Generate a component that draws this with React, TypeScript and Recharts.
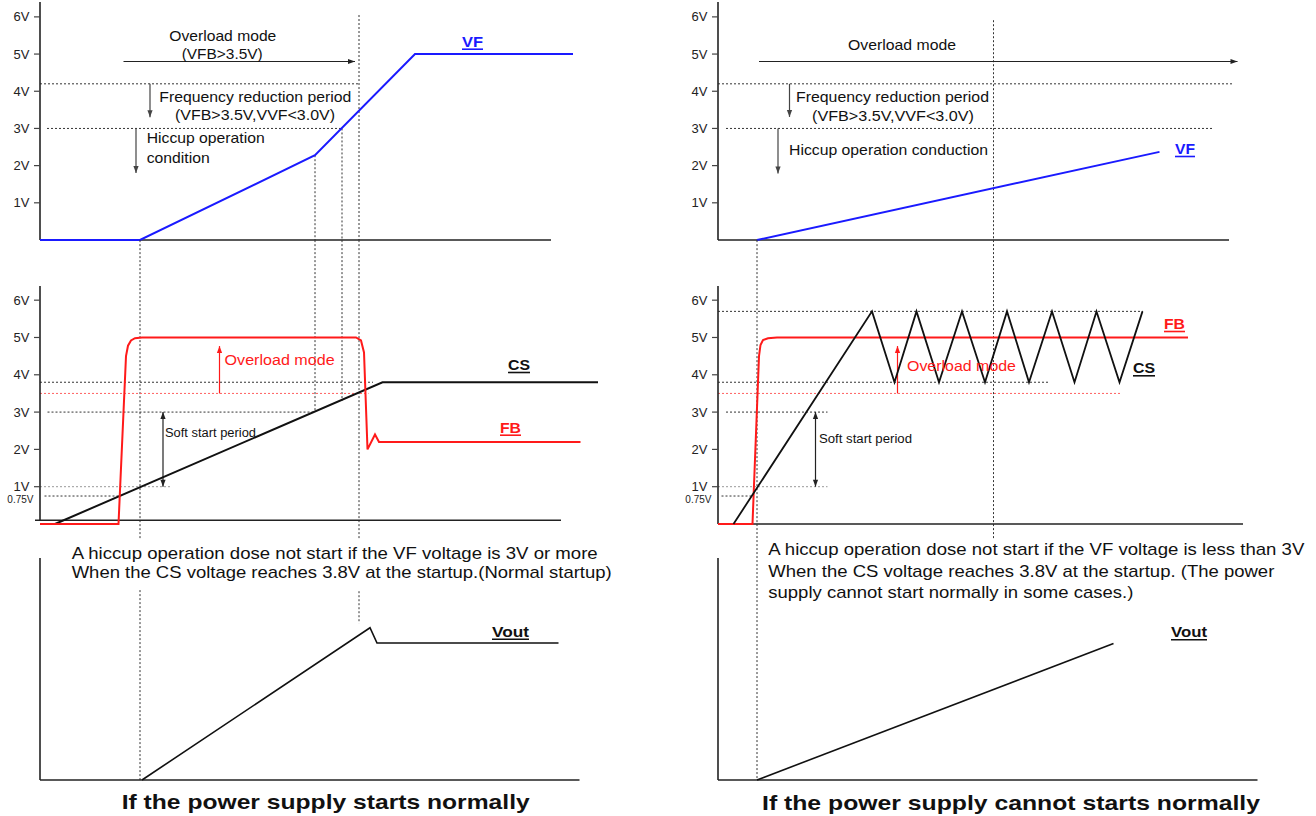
import React from "react";
import { LineChart, Line, XAxis, YAxis, ReferenceLine } from "recharts";

// time is in arbitrary units, 0 = the y axis of each column, 5px per unit
const T_MAX = 112;
const VOLT_TICKS = [1, 2, 3, 4, 5, 6];
const VOLT_TICKS_CS = [0.75, 1, 2, 3, 4, 5, 6];

// ---- left: power supply starts normally ----
const vfNormalT = [0, 20, 55, 75, 106.6];
const vfNormalV = [0, 0, 2.28, 5, 5];
const fbNormalT = [0, 15.7, 17.2, 17.6, 18.2, 19, 20.4, 63.2, 64.2, 64.8, 65.5, 67, 67.8, 108.1];
const fbNormalV = [0, 0, 4.5, 4.78, 4.92, 4.98, 5, 5, 4.92, 4.6, 2.0, 2.4, 2.2, 2.2];
const csNormalT = [3, 68.5, 111.6];
const csNormalV = [0, 3.8, 3.8];
const voutNormalT = [20.4, 66, 67.4, 103.7];
const voutNormalV = [0, 4.08, 3.67, 3.67];

// ---- right: power supply cannot start normally ----
const vfFailT = [7.8, 88.3];
const vfFailV = [0, 2.37];
const fbFailT = [0, 6.9, 8.2, 8.5, 9, 10, 11.8, 94];
const fbFailV = [0, 0, 4.5, 4.8, 4.93, 4.98, 5, 5];
const csFailT = [3.1, 30.8, 35.3, 39.7, 44.2, 48.8, 53.4, 57.8, 62.2, 66.8, 71.3, 75.7, 80.3, 84.9];
const csFailV = [0, 5.7, 3.8, 5.7, 3.8, 5.7, 3.8, 5.7, 3.8, 5.7, 3.8, 5.7, 3.8, 5.7];
const voutFailT = [7.8, 79.1];
const voutFailV = [0, 3.66];

// guide segments: [t1, v1, t2, v2]
type Seg = number[];
const vfNormalGuides: Seg[] = [[0, 4.2, 63.8, 4.2], [1.4, 3, 60.4, 3], [55, 2.28, 55, 0], [60.4, 3, 60.4, 0], [63.8, 6.05, 63.8, 0]];
const vfNormalArrows: Seg[] = [[16.7, 4.8, 63, 4.8]];
const vfNormalDown: Seg[] = [[22, 4.2, 22, 3.3], [19.2, 3, 19.2, 1.8]];
const vfNormalAxes: Seg[] = [[0, 0, 102.2, 0], [0, 0, 0, 6.4]];

const csNormalGuides: Seg[] = [[0, 3.8, 66.6, 3.8], [1.5, 3, 55.1, 3], [0.9, 0.75, 15.7, 0.75], [20, 7.61, 20, -0.43], [55, 7.61, 55, 3], [60.4, 7.61, 60.4, 3.3], [63.8, 7.61, 63.8, -0.43]];
const csNormalGray: Seg[] = [[0, 1, 26.3, 1]];
const csNormalRed: Seg[] = [[0, 3.5, 65.7, 3.5]];
const csNormalRedArrow: Seg[] = [[35.9, 3.5, 35.9, 4.77]];
const csNormalSoft: Seg[] = [[24.6, 3, 24.6, 1]];
const csNormalAxes: Seg[] = [[-1, 0.1, 104.2, 0.1], [0, 0.1, 0, 6.38]];

const voutNormalGuides: Seg[] = [[20, 5.09, 20, 0], [63.8, 5.06, 63.8, 4.2]];
const voutNormalAxes: Seg[] = [[0, 0, 107.9, 0], [0, 0, 0, 5.95]];

const vfFailGuides: Seg[] = [[0, 4.2, 102.8, 4.2], [1.6, 3, 99, 3], [55.1, 5.91, 55.1, 0]];
const vfFailArrows: Seg[] = [[8.2, 4.8, 103.9, 4.8]];
const vfFailDown: Seg[] = [[14.3, 4.2, 14.3, 3.31], [12, 3, 12, 1.79]];
const vfFailAxes: Seg[] = [[0, 0, 102.2, 0], [0, 0, 0, 6.4]];

const csFailGuides: Seg[] = [[0, 5.7, 85, 5.7], [0, 3.8, 66.4, 3.8], [1.6, 3, 21.9, 3], [0.7, 0.75, 6.9, 0.75], [7.8, 7.61, 7.8, 0], [55.1, 7.61, 55.1, -0.43]];
const csFailGray: Seg[] = [[0, 1, 21.9, 1]];
const csFailRed: Seg[] = [[0, 3.5, 80.8, 3.5]];
const csFailRedArrow: Seg[] = [[35.9, 3.5, 35.9, 4.77]];
const csFailSoft: Seg[] = [[19.5, 3, 19.5, 1]];
const csFailAxes: Seg[] = [[0, 0, 105, 0], [0, 0, 0, 6.38]];

const voutFailGuides: Seg[] = [[7.8, 6.86, 7.8, 0]];
const voutFailAxes: Seg[] = [[0, 0, 107.9, 0], [0, 0, 0, 5.95]];

const FONT = "'Liberation Sans', Arial, Helvetica, sans-serif";
const RED = "#ff1a1a";
const BLUE = "#1a1aff";

const pts = (t: number[], v: number[]) => t.map((x, i) => ({ t: x, v: v[i] }));

const VTick = (props: any) => {
  const { x, y, payload } = props;
  if (payload.value === 0.75) {
    return (
      <text x={x + 3.5} y={y + 6.5} textAnchor="end" fontSize={10} fontFamily={FONT} fill="#222">
        0.75V
      </text>
    );
  }
  return (
    <g>
      <line x1={x + 4} x2={x + 10} y1={y} y2={y} stroke="#444" strokeWidth={1.2} />
      <text x={x - 0.5} y={y + 4.6} textAnchor="end" fontSize={13} fontFamily={FONT} fill="#222">
        {`${payload.value}V`}
      </text>
    </g>
  );
};

const arrowShape = (both: boolean) => (p: any) => {
  const { x1, y1, x2, y2, stroke } = p;
  const dx = x2 - x1;
  const dy = y2 - y1;
  const len = Math.hypot(dx, dy) || 1;
  const ux = dx / len;
  const uy = dy / len;
  const head = (hx: number, hy: number, dx: number, dy: number) =>
    `${hx},${hy} ${hx - dx * 7 - dy * 2.6},${hy - dy * 7 + dx * 2.6} ${hx - dx * 7 + dy * 2.6},${hy - dy * 7 - dx * 2.6}`;
  return (
    <g>
      <line x1={x1} y1={y1} x2={x2} y2={y2} stroke={stroke} strokeWidth={1.2} />
      <polygon points={head(x2, y2, ux, uy)} fill={stroke} />
      {both && <polygon points={head(x1, y1, -ux, -uy)} fill={stroke} />}
    </g>
  );
};

const seg = (s: Seg, key: string, stroke: string, opts: any = {}) => (
  <ReferenceLine
    key={key}
    segment={[{ x: s[0], y: s[1] }, { x: s[2], y: s[3] }]}
    stroke={stroke}
    ifOverflow="visible"
    {...opts}
  />
);

type Series = { data: { t: number; v: number }[]; color: string; width: number };

function Panel(props: {
  left: number;
  top: number;
  height: number;
  mt: number;
  mb: number;
  yMax: number;
  ticks: number[];
  series: Series[];
  axes: Seg[];
  dotted?: Seg[];
  gray?: Seg[];
  red?: Seg[];
  arrows?: Seg[];
  down?: Seg[];
  redArrows?: Seg[];
  soft?: Seg[];
}) {
  const p = props;
  return (
    <div style={{ position: "absolute", left: p.left, top: p.top }}>
      <LineChart width={600} height={p.height} margin={{ top: p.mt, right: 0, bottom: p.mb, left: 0 }}>
        <XAxis type="number" dataKey="t" domain={[0, T_MAX]} hide />
        <YAxis
          type="number"
          domain={[0, p.yMax]}
          ticks={p.ticks}
          interval={0}
          width={40}
          axisLine={false}
          tickLine={false}
          tickSize={6}
          tickMargin={4}
          tick={p.ticks.length ? <VTick /> : false}
        />
        {(p.dotted || []).map((s, i) => seg(s, "d" + i, "#333", { strokeDasharray: "2 2", strokeWidth: 1 }))}
        {(p.gray || []).map((s, i) => seg(s, "g" + i, "#999", { strokeDasharray: "2 2", strokeWidth: 1 }))}
        {(p.red || []).map((s, i) => seg(s, "r" + i, "#ff6060", { strokeDasharray: "2 2", strokeWidth: 1 }))}
        {(p.arrows || []).map((s, i) => seg(s, "a" + i, "#222", { shape: arrowShape(false) }))}
        {(p.down || []).map((s, i) => seg(s, "w" + i, "#444", { shape: arrowShape(false) }))}
        {(p.redArrows || []).map((s, i) => seg(s, "ra" + i, RED, { shape: arrowShape(false) }))}
        {(p.soft || []).map((s, i) => seg(s, "s" + i, "#222", { shape: arrowShape(true) }))}
        {p.axes.map((s, i) => seg(s, "x" + i, "#222", { strokeWidth: 1.6 }))}
        {p.series.map((s, i) => (
          <Line
            key={"l" + i}
            data={s.data}
            dataKey="v"
            type="linear"
            stroke={s.color}
            strokeWidth={s.width}
            dot={false}
            activeDot={false}
            isAnimationActive={false}
          />
        ))}
      </LineChart>
    </div>
  );
}

const Txt = (p: { x: number; y: number; w: number; s: number; t: string; bold?: boolean; color?: string; u?: boolean }) => {
  const color = p.color || "#111";
  return (
    <g>
      <text
        x={p.x}
        y={p.y}
        fontSize={p.s}
        fontWeight={p.bold ? 700 : 400}
        fill={color}
        fontFamily={FONT}
        textLength={p.w}
        lengthAdjust="spacingAndGlyphs"
      >
        {p.t}
      </text>
      {p.u && <line x1={p.x} x2={p.x + p.w} y1={p.y + 2.5} y2={p.y + 2.5} stroke={color} strokeWidth={1.6} />}
    </g>
  );
};

export default function App() {
  return (
    <div style={{ position: "absolute", left: 0, top: 0, width: 1316, height: 816, background: "#fff", overflow: "hidden" }}>
      {/* left column */}
      <Panel left={0} top={0} height={246} mt={2} mb={6} yMax={6.4} ticks={VOLT_TICKS}
        series={[{ data: pts(vfNormalT, vfNormalV), color: BLUE, width: 2 }]}
        axes={vfNormalAxes} dotted={vfNormalGuides} arrows={vfNormalArrows} down={vfNormalDown} />
      <Panel left={0} top={240} height={306} mt={46} mb={22} yMax={6.38} ticks={VOLT_TICKS_CS}
        series={[
          { data: pts(csNormalT, csNormalV), color: "#111", width: 2 },
          { data: pts(fbNormalT, fbNormalV), color: RED, width: 2 },
        ]}
        axes={csNormalAxes} dotted={csNormalGuides} gray={csNormalGray} red={csNormalRed}
        redArrows={csNormalRedArrow} soft={csNormalSoft} />
      <Panel left={0} top={524} height={262} mt={34} mb={6} yMax={5.95} ticks={[]}
        series={[{ data: pts(voutNormalT, voutNormalV), color: "#111", width: 1.6 }]}
        axes={voutNormalAxes} dotted={voutNormalGuides} />

      {/* right column */}
      <Panel left={678} top={0} height={246} mt={2} mb={6} yMax={6.4} ticks={VOLT_TICKS}
        series={[{ data: pts(vfFailT, vfFailV), color: BLUE, width: 2 }]}
        axes={vfFailAxes} dotted={vfFailGuides} arrows={vfFailArrows} down={vfFailDown} />
      <Panel left={678} top={240} height={306} mt={46} mb={22} yMax={6.38} ticks={VOLT_TICKS_CS}
        series={[
          { data: pts(fbFailT, fbFailV), color: RED, width: 2 },
          { data: pts(csFailT, csFailV), color: "#111", width: 1.8 },
        ]}
        axes={csFailAxes} dotted={csFailGuides} gray={csFailGray} red={csFailRed}
        redArrows={csFailRedArrow} soft={csFailSoft} />
      <Panel left={678} top={524} height={262} mt={34} mb={6} yMax={5.95} ticks={[]}
        series={[{ data: pts(voutFailT, voutFailV), color: "#111", width: 1.6 }]}
        axes={voutFailAxes} dotted={voutFailGuides} />

      <svg width={1316} height={816} style={{ position: "absolute", left: 0, top: 0, pointerEvents: "none" }}>
        {/* left annotations */}
        <Txt x={169.3} y={40.7} w={107} s={15} t="Overload mode" />
        <Txt x={181.7} y={59.3} w={81} s={15} t="(VFB>3.5V)" />
        <Txt x={159.3} y={101.7} w={192} s={15} t="Frequency reduction period" />
        <Txt x={175} y={120} w={160} s={15} t="(VFB>3.5V,VVF<3.0V)" />
        <Txt x={146.7} y={143.3} w={118} s={15} t="Hiccup operation" />
        <Txt x={146.7} y={163.3} w={63} s={15} t="condition" />
        <Txt x={462} y={46.7} w={21} s={15} t="VF" bold color={BLUE} u />
        <Txt x={224.6} y={365} w={110} s={15.5} t="Overload mode" color={RED} />
        <Txt x={165} y={437.3} w={91} s={12} t="Soft start period" />
        <Txt x={508} y={370} w={22} s={15} t="CS" bold u />
        <Txt x={500} y={432.7} w={21} s={15} t="FB" bold color={RED} u />
        <Txt x={71.7} y={559.3} w={526} s={17} t="A hiccup operation dose not start if the VF voltage is 3V or more" />
        <Txt x={71.7} y={578} w={540} s={17} t="When the CS voltage reaches 3.8V at the startup.(Normal startup)" />
        <Txt x={492} y={636.7} w={37} s={15} t="Vout" bold u />
        <Txt x={121.7} y={809.3} w={408} s={21} t="If the power supply starts normally" bold />

        {/* right annotations */}
        <Txt x={848} y={50} w={108} s={15} t="Overload mode" />
        <Txt x={796} y={101.7} w={193} s={15} t="Frequency reduction period" />
        <Txt x={812} y={120.7} w={162} s={15} t="(VFB>3.5V,VVF<3.0V)" />
        <Txt x={789} y={155} w={199} s={15} t="Hiccup operation conduction" />
        <Txt x={1175} y={154} w={20} s={15} t="VF" bold color={BLUE} u />
        <Txt x={1164} y={329} w={21} s={15} t="FB" bold color={RED} u />
        <Txt x={1133} y={373.3} w={22} s={15} t="CS" bold u />
        <Txt x={907} y={370.7} w={109} s={15.5} t="Overload mode" color={RED} />
        <Txt x={819} y={443.3} w={93} s={12} t="Soft start period" />
        <Txt x={768.3} y={555} w={536} s={17} t="A hiccup operation dose not start if the VF voltage is less than 3V" />
        <Txt x={768.3} y={576.7} w={506} s={17} t="When the CS voltage reaches 3.8V at the startup. (The power" />
        <Txt x={768.3} y={598.3} w={365} s={17} t="supply cannot start normally in some cases.)" />
        <Txt x={1171} y={637.3} w={36} s={15} t="Vout" bold u />
        <Txt x={762} y={810} w={498} s={21} t="If the power supply cannot starts normally" bold />
      </svg>
    </div>
  );
}
